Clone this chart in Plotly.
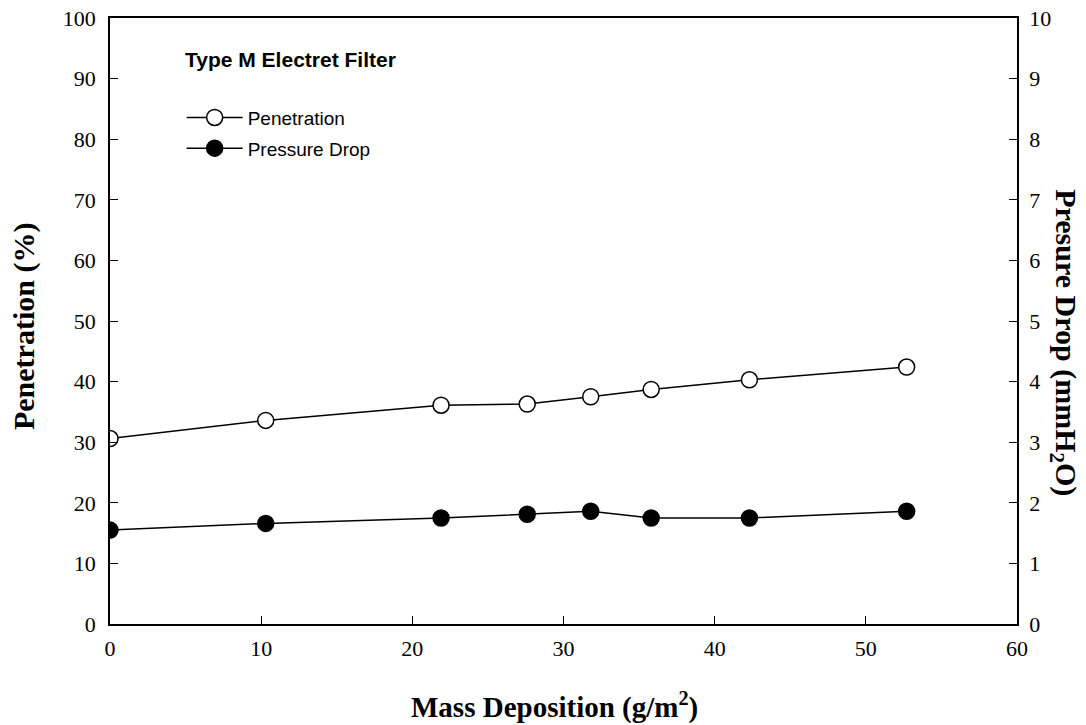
import plotly.graph_objects as go

# Mass deposition (g/m^2) and measured values
mass_deposition = [0.0, 10.3, 21.9, 27.6, 31.8, 35.8, 42.3, 52.7]
penetration = [30.6, 33.6, 36.1, 36.3, 37.5, 38.7, 40.3, 42.4]          # %
pressure_drop = [1.55, 1.66, 1.75, 1.81, 1.86, 1.75, 1.75, 1.86]         # mmH2O

x_ticks = [0, 10, 20, 30, 40, 50, 60]
left_ticks = list(range(0, 101, 10))
right_ticks = list(range(0, 11, 1))

serif = "Liberation Serif, Times New Roman, serif"
sans = "Liberation Sans, Arial, sans-serif"

fig = go.Figure()
fig.add_trace(go.Scatter(
    x=mass_deposition, y=penetration, name="Penetration",
    mode="lines+markers", legendgroup="a",
    line=dict(color="black", width=1.5),
    marker=dict(symbol="circle", size=16, color="white",
                line=dict(color="black", width=1.5)),
))
fig.add_trace(go.Scatter(
    x=mass_deposition, y=pressure_drop, name="Pressure Drop",
    mode="lines+markers", yaxis="y2", legendgroup="b",
    line=dict(color="black", width=1.5),
    marker=dict(symbol="circle", size=16, color="black",
                line=dict(color="black", width=1.5)),
))

axis_common = dict(
    showgrid=False, zeroline=False, showline=True, automargin=False,
    linecolor="black", linewidth=1.5,
    ticks="inside", ticklen=8, tickwidth=1, tickcolor="black",
    tickfont=dict(family=serif, size=22, color="black"),
)

title_font = dict(family=serif, size=30, color="black")

fig.update_layout(
    width=1086, height=725,
    margin=dict(l=110, r=69, t=18, b=101),
    plot_bgcolor="white", paper_bgcolor="white",
    showlegend=True,
    legend=dict(
        x=0.079, y=0.867, xanchor="left", yanchor="top",
        font=dict(family=sans, size=19, color="black"),
        bgcolor="rgba(0,0,0,0)", tracegroupgap=3, itemwidth=56,
    ),
    xaxis=dict(
        range=[0, 60], tickvals=x_ticks, mirror=True,
        ticklabelstandoff=4,
        **axis_common,
    ),
    yaxis=dict(
        range=[0, 100], tickvals=left_ticks, ticklabelstandoff=8,
        **axis_common,
    ),
    yaxis2=dict(
        range=[0, 10], tickvals=right_ticks, ticklabelstandoff=6,
        overlaying="y", side="right", anchor="x",
        **axis_common,
    ),
    annotations=[
        dict(text="<b>Type M Electret Filter</b>", xref="paper", yref="paper",
             x=0.080, y=0.932, xanchor="left", yanchor="middle", showarrow=False,
             font=dict(family=sans, size=21, color="black")),
        dict(text="<b>Mass Deposition (g/m<sup>2</sup>)</b>", xref="paper", yref="paper",
             x=0.49, y=0, yshift=-81, xanchor="center", yanchor="middle",
             showarrow=False, font=dict(family=serif, size=29, color="black")),
        dict(text="<b>Penetration (%)</b>", xref="paper", yref="paper",
             x=0, y=0.49, xshift=-86, xanchor="center", yanchor="middle",
             showarrow=False, textangle=-90, font=title_font),
        dict(text="<b>Presure Drop (mmH<sub>2</sub>O)</b>", xref="paper", yref="paper",
             x=1.0, y=0.465, xshift=47, xanchor="center", yanchor="middle",
             showarrow=False, textangle=90, font=title_font),
    ],
)

fig.write_html("out.html")
